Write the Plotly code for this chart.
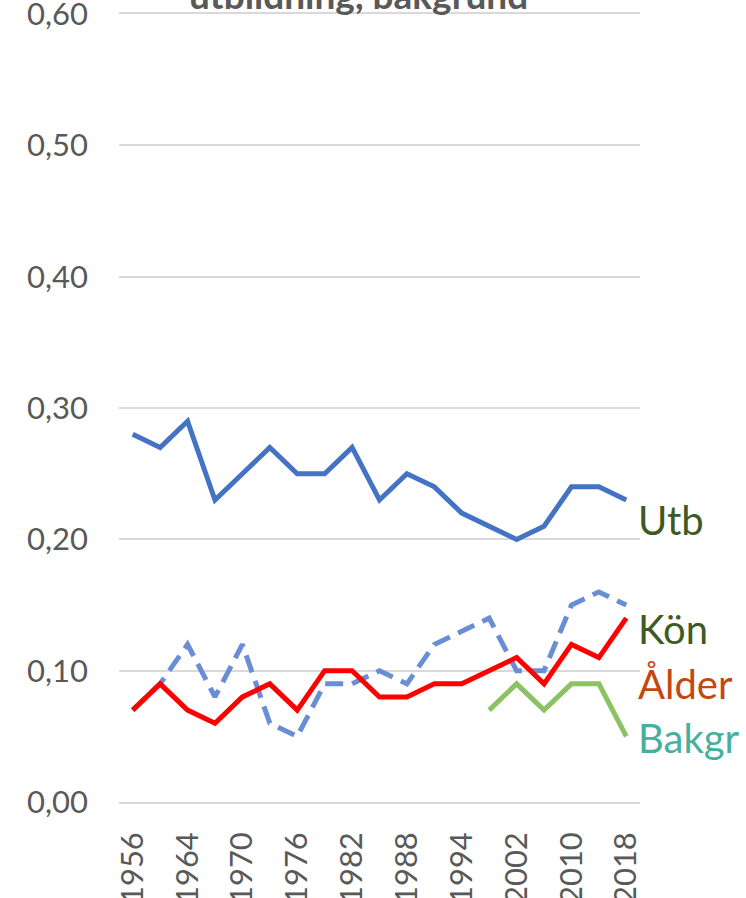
import plotly.graph_objects as go

# valår (kategorier)
years = ["1956", "1960", "1964", "1968", "1970", "1973", "1976", "1979", "1982",
         "1985", "1988", "1991", "1994", "1998", "2002", "2006", "2010", "2014", "2018"]
tick_years = ["1956", "1964", "1970", "1976", "1982", "1988", "1994", "2002", "2010", "2018"]

utb = [0.28, 0.27, 0.29, 0.23, 0.25, 0.27, 0.25, 0.25, 0.27, 0.23,
       0.25, 0.24, 0.22, 0.21, 0.20, 0.21, 0.24, 0.24, 0.23]
kon = [0.07, 0.09, 0.07, 0.06, 0.08, 0.09, 0.07, 0.10, 0.10, 0.08,
       0.08, 0.09, 0.09, 0.10, 0.11, 0.09, 0.12, 0.11, 0.14]
alder = [0.07, 0.09, 0.12, 0.08, 0.12, 0.06, 0.05, 0.09, 0.09, 0.10,
         0.09, 0.12, 0.13, 0.14, 0.10, 0.10, 0.15, 0.16, 0.15]
bakgr = [None] * 13 + [0.07, 0.09, 0.07, 0.09, 0.09, 0.05]

label_names = ["Utb", "Kön", "Ålder", "Bakgr"]
label_y = [0.215, 0.132, 0.090, 0.049]
label_colors = ["#3E5A22", "#3E5A22", "#C4470F", "#45B09D"]

FONT = "Lato"
GREY = "#595959"

fig = go.Figure()
fig.add_trace(go.Scatter(x=years, y=alder, mode="lines", name="Ålder",
                         line=dict(color="#6A8ED6", width=5, dash="18px,9px")))
fig.add_trace(go.Scatter(x=years, y=kon, mode="lines", name="Kön",
                         line=dict(color="#FF0000", width=5)))
fig.add_trace(go.Scatter(x=years, y=utb, mode="lines", name="Utb",
                         line=dict(color="#4472C4", width=5)))
fig.add_trace(go.Scatter(x=years, y=bakgr, mode="lines", name="Bakgr",
                         line=dict(color="#8CC262", width=5)))

for name, yv, col in zip(label_names, label_y, label_colors):
    fig.add_annotation(x=1, xref="paper", y=yv, yref="y", text=name,
                       showarrow=False, xanchor="left", yanchor="middle", xshift=-4,
                       font=dict(family=FONT, size=40, color=col))

# titeln ligger delvis utanför bilden
fig.add_annotation(x=0.46, xref="paper", y=0.9937, yref="paper",
                   text="<b>utbildning, bakgrund</b>", showarrow=False,
                   xanchor="center", yanchor="bottom",
                   font=dict(family=FONT, size=37, color=GREY))

fig.update_layout(
    width=746, height=898,
    margin=dict(l=119, r=106, t=14, b=96),
    plot_bgcolor="white", paper_bgcolor="white",
    showlegend=False,
    separators=", ",
    font=dict(family=FONT, color=GREY),
)
fig.update_xaxes(type="category", range=[-0.5, 18.5], tickmode="array",
                 tickvals=tick_years, ticktext=tick_years, tickangle=-90,
                 showgrid=False, zeroline=False, ticks="", automargin=False,
                 showline=True, mirror=True, linecolor="#D9D9D9", linewidth=1.5,
                 tickfont=dict(family=FONT, size=31, color=GREY), ticklabelstandoff=16)
fig.update_yaxes(range=[0, 0.6001], dtick=0.1, tickformat=".2f", automargin=False,
                 gridcolor="#D9D9D9", gridwidth=1.5, zeroline=False, showline=False,
                 ticklabeloverflow="allow",
                 tickfont=dict(family=FONT, size=31, color=GREY), ticklabelstandoff=30)

# ta bort sidans standardmarginal så att figuren hamnar i hörnet
fig.write_html("out.html", config={"displayModeBar": False},
               post_script="document.body.style.margin='0';")
